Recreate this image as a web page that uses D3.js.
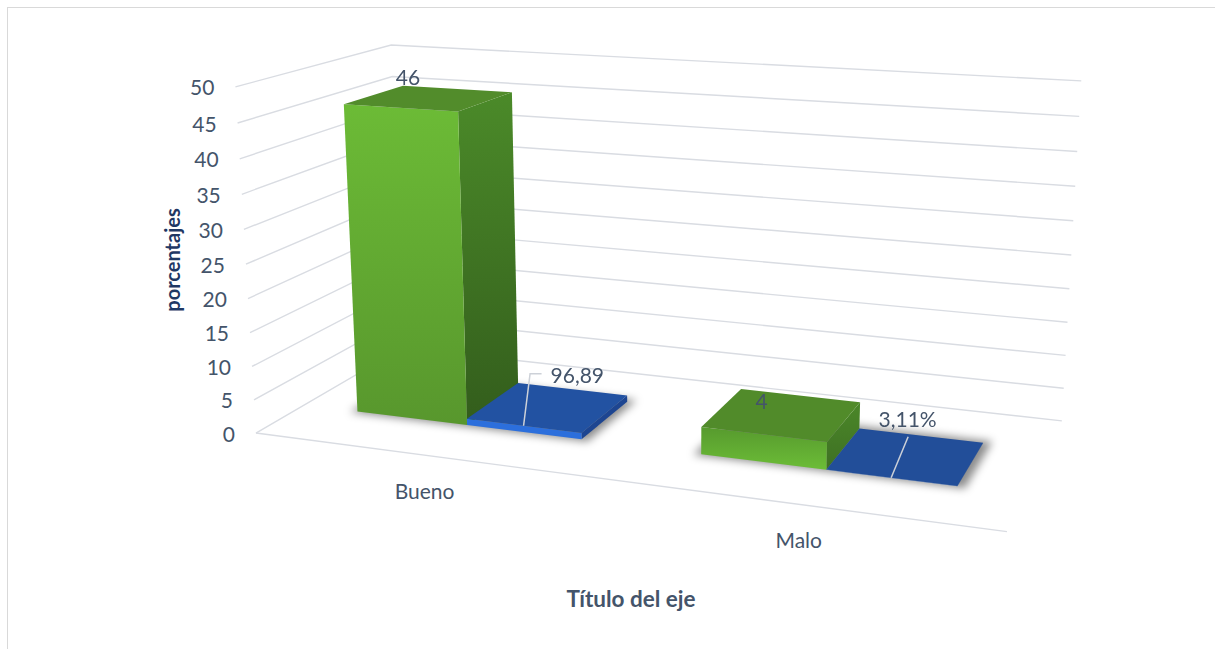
<!DOCTYPE html>
<html>
<head>
<meta charset="utf-8">
<script src="https://cdn.jsdelivr.net/npm/d3@7"></script>
<style>
  html, body { margin: 0; padding: 0; background: #ffffff; }
  svg { display: block; }
  text { font-family: Lato, "Open Sans", "Noto Sans", sans-serif; }
</style>
</head>
<body>
<svg id="chart" width="1215" height="649"></svg>
<script>
// ---- data ----
const categories = ["Bueno", "Malo"];
const greenValues = [46, 4];            // first series, plotted on the 0–50 axis
const blueShares = [0.9689, 0.0311];    // second series, shares of the total
const blueLabelKinds = ["plain", "percent"];
const yTicks = [0, 5, 10, 15, 20, 25, 30, 35, 40, 45, 50];
const yDomain = [0, 50];
const yTitle = "porcentajes";
const xTitle = "Título del eje";

// ---- 3-D scene setup ----
const world = { width: 793.7, height: 368 };      // floor width and wall height in scene units
const camera = { yaw: 20, pitch: 15, focal: 1894, cx: 666, cy: 287, origin: [-433, 154.2, 2000] };

const rad = Math.PI / 180;
const cy = Math.cos(camera.yaw * rad), sy = Math.sin(camera.yaw * rad);
const cp = Math.cos(camera.pitch * rad), sp = Math.sin(camera.pitch * rad);

// scene point (X right, Y up, Z into the page) -> screen [x, y]
function project(X, Y, Z) {
  const [ox, oy, oz] = camera.origin;
  const x = ox + X * cy + Z * sy;
  const y = oy + X * sy * sp - Y * cp - Z * cy * sp;
  const z = oz - X * sy * cp - Y * sp + Z * cy * cp;
  return [camera.cx + camera.focal * x / z, camera.cy + camera.focal * y / z];
}

const seriesKeys = ["green", "blue"];
const x0 = d3.scaleBand().domain(categories).range([0, world.width])
  .paddingInner(1 / 3).paddingOuter(1 / 6);
const x1 = d3.scaleBand().domain(seriesKeys).range([0, x0.bandwidth()]);
const y = d3.scaleLinear().domain(yDomain).range([0, world.height]);

const barW = x1.bandwidth();
const floorDepth = barW * 2.5;                // gap depth 150 %
const zFront = (floorDepth - barW) / 2;
const zBack = zFront + barW;

const svg = d3.select("#chart");
const line = d3.line();
const poly = pts => line(pts.map(p => project(...p))) + "Z";

// ---- defs: gradients and blur ----
const defs = svg.append("defs");
function vGrad(id, c0, c1) {
  const g = defs.append("linearGradient").attr("id", id)
    .attr("x1", 0).attr("y1", 0).attr("x2", 0).attr("y2", 1);
  g.append("stop").attr("offset", "0%").attr("stop-color", c0);
  g.append("stop").attr("offset", "100%").attr("stop-color", c1);
}
vGrad("gFront0", "#6cbb36", "#58972d");
vGrad("gFront1", "#579a2e", "#6cbd37");
vGrad("gSide0", "#4b8a29", "#335d1c");
vGrad("gSide1", "#4b8729", "#3e7023");
defs.append("filter").attr("id", "soft")
  .attr("x", "-30%").attr("y", "-30%").attr("width", "160%").attr("height", "160%")
  .append("feGaussianBlur").attr("stdDeviation", 4);

const faceStyle = {
  green: [
    { front: "url(#gFront0)", side: "url(#gSide0)", top: "#528c2b" },
    { front: "url(#gFront1)", side: "url(#gSide1)", top: "#518b2a" }
  ],
  blue: [
    { front: "#2c6fdc", side: "#1d4591", top: "#2252a2" },
    { front: "#2a64c8", side: "#1d4591", top: "#224e99" }
  ]
};

const labelSize = 21;

// ---- chart frame ----
svg.append("rect").attr("x", 7.5).attr("y", 7.5).attr("width", 1230).attr("height", 670)
  .attr("fill", "none").attr("stroke", "#d9d9d9").attr("stroke-width", 1);

// ---- walls: gridlines on the side wall and back wall ----
const W = world.width;
svg.append("g").selectAll("path").data(yTicks).join("path")
  .attr("d", t => line([project(0, y(t), 0), project(0, y(t), floorDepth), project(W, y(t), floorDepth)]))
  .attr("fill", "none").attr("stroke", "#d9dce2").attr("stroke-width", 1.4);

// floor front edge (category axis)
svg.append("path")
  .attr("d", line([project(0, 0, 0), project(W, 0, 0)]))
  .attr("fill", "none").attr("stroke", "#d9dce2").attr("stroke-width", 1.4);

// ---- value axis labels ----
svg.append("g").selectAll("text").data(yTicks).join("text")
  .attr("x", t => project(0, y(t), 0)[0] - 21)
  .attr("y", t => project(0, y(t), 0)[1] + 8.5)
  .attr("text-anchor", "end").attr("font-size", labelSize).attr("fill", "#44546a")
  .text(t => t);

// ---- category labels ----
svg.append("g").selectAll("text").data(categories).join("text")
  .attr("x", c => project(x0(c) + x0.bandwidth() / 2, 0, 0)[0])
  .attr("y", c => project(x0(c) + x0.bandwidth() / 2, 0, 0)[1] + 44)
  .attr("text-anchor", "middle").attr("font-size", labelSize).attr("fill", "#44546a")
  .text(c => c);

// ---- soft floor shadows under each cluster ----
svg.append("g").attr("filter", "url(#soft)").selectAll("path").data(categories).join("path")
  .attr("d", c => {
    const a = x0(c) - 7, b = x0(c) + x0.bandwidth() + 8;
    return poly([[a, 0, zFront - 4], [b, 0, zFront - 4], [b, 0, zBack + 8], [a, 0, zBack + 8]]);
  })
  .attr("fill", "#000").attr("opacity", 0.45);

// ---- columns ----
const bars = [];
categories.forEach((c, i) => {
  bars.push({ cat: c, i, key: "green", value: greenValues[i] });
  bars.push({ cat: c, i, key: "blue", value: blueShares[i] });
});
bars.forEach(d => { d.xa = x0(d.cat) + x1(d.key); d.xb = d.xa + barW; d.h = y(d.value); });
bars.sort((a, b) => a.xa - b.xa);   // the eye sits to the right, so paint left to right

const barG = svg.append("g").selectAll("g").data(bars).join("g");
barG.append("path")   // right side
  .attr("d", d => poly([[d.xb, 0, zFront], [d.xb, 0, zBack], [d.xb, d.h, zBack], [d.xb, d.h, zFront]]))
  .attr("fill", d => faceStyle[d.key][d.i].side);
barG.append("path")   // front
  .attr("d", d => poly([[d.xa, 0, zFront], [d.xb, 0, zFront], [d.xb, d.h, zFront], [d.xa, d.h, zFront]]))
  .attr("fill", d => faceStyle[d.key][d.i].front);
barG.append("path")   // top
  .attr("d", d => poly([[d.xa, d.h, zFront], [d.xb, d.h, zFront], [d.xb, d.h, zBack], [d.xa, d.h, zBack]]))
  .attr("fill", d => faceStyle[d.key][d.i].top);

// ---- data labels ----
const locale = d3.formatLocale({ decimal: ",", thousands: ".", grouping: [3], currency: ["", ""] });
const fmtPlain = locale.format(".2f");
const fmtPct = locale.format(".2%");

const greenLabelNudge = [[7.6, -22.6], [-1.8, -25.7]];
svg.append("g").selectAll("text").data(bars.filter(d => d.key === "green")).join("text")
  .attr("x", d => project((d.xa + d.xb) / 2, d.h, zFront)[0] + greenLabelNudge[d.i][0])
  .attr("y", d => project((d.xa + d.xb) / 2, d.h, zFront)[1] + greenLabelNudge[d.i][1])
  .attr("text-anchor", "middle").attr("font-size", labelSize).attr("fill", "#44546a")
  .text(d => d.value);

// labels of the second series sit away from the slabs, tied back with leader lines
const blueLabelPlacement = [
  { leader: [[6.5, -52], [18, -52]], text: [27, -43], anchor: "start" },
  { leader: [[17, -41]], text: [16.5, -50.7], anchor: "middle" }
];
const blueG = svg.append("g").selectAll("g").data(bars.filter(d => d.key === "blue")).join("g");
blueG.append("path")
  .attr("d", d => {
    const a = project((d.xa + d.xb) / 2, d.h, zFront);
    const pts = [a].concat(blueLabelPlacement[d.i].leader.map(o => [a[0] + o[0], a[1] + o[1]]));
    return line(pts);
  })
  .attr("fill", "none").attr("stroke", "#cdd1d8").attr("stroke-width", 1.5);
blueG.append("text")
  .attr("x", d => project((d.xa + d.xb) / 2, d.h, zFront)[0] + blueLabelPlacement[d.i].text[0])
  .attr("y", d => project((d.xa + d.xb) / 2, d.h, zFront)[1] + blueLabelPlacement[d.i].text[1])
  .attr("text-anchor", d => blueLabelPlacement[d.i].anchor)
  .attr("font-size", labelSize).attr("fill", "#44546a")
  .text(d => blueLabelKinds[d.i] === "percent" ? fmtPct(d.value) : fmtPlain(d.value * 100));

// ---- axis titles ----
svg.append("text")
  .attr("transform", "translate(180,260) rotate(-90)")
  .attr("text-anchor", "middle").attr("font-size", 20).attr("font-weight", 700)
  .attr("fill", "#1f3864").text(yTitle);
svg.append("text")
  .attr("x", 631).attr("y", 607)
  .attr("text-anchor", "middle").attr("font-size", 22.5).attr("font-weight", 700)
  .attr("fill", "#44546a").text(xTitle);
</script>
</body>
</html>
